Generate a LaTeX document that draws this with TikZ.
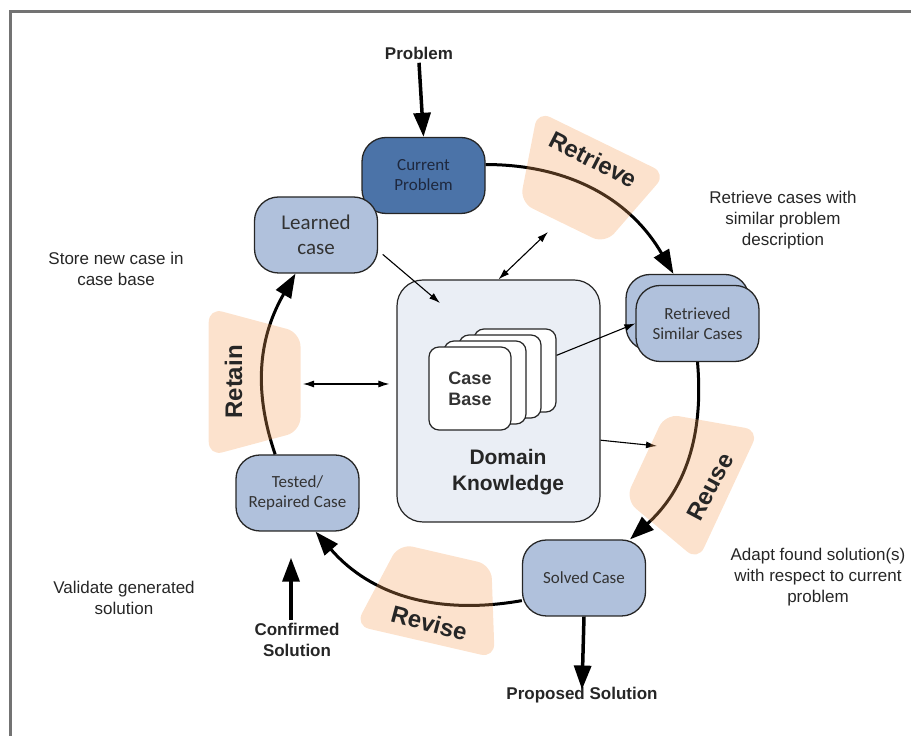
\documentclass[tikz,border=0pt]{standalone}
\usepackage{fontspec}
\setmainfont{Liberation Sans}
\newfontfamily\calibri{Carlito}
\usetikzlibrary{shapes.geometric, arrows.meta, positioning, calc}

\begin{document}
\begin{tikzpicture}[x=1pt,y=1pt]
		\tikzstyle{Case} = [rectangle, rounded corners=24pt, minimum width=123pt, minimum height=76pt, align=center, draw=black!85, line width=1.3pt, fill={rgb,255:red,176;green,193;blue,220}, text=black!80, font=\calibri\fontsize{17}{20}\selectfont]
		\tikzstyle{Card} = [rectangle, rounded corners=10pt, minimum width=82pt, minimum height=83pt, draw=black!85, line width=1.2pt, fill=white, align=center, font=\bfseries\fontsize{18}{21}\selectfont, text=black!80]
		\tikzstyle{Note} = [align=center, font=\fontsize{17}{21}\selectfont, text=black!85]
		\tikzstyle{Label} = [align=center, font=\bfseries\fontsize{17}{21}\selectfont, text=black!85]
		\tikzstyle{Phase} = [font=\bfseries\fontsize{24}{28}\selectfont, text=black!85]
		\tikzstyle{Patch} = [rounded corners=14pt, fill={rgb,255:red,245;green,160;blue,90}, fill opacity=0.3]
		\tikzstyle{bigarrow} = [line width=3.5pt, -{Triangle[length=24pt,width=17pt]}]
		\tikzstyle{cyclearrow} = [line width=3pt, -{Triangle[length=24pt,width=17pt]}]
		\tikzstyle{thinarrow} = [line width=1.1pt, -{Latex[length=11pt,width=7pt]}]
		
		\useasboundingbox (0,0) rectangle (911,736);
		\draw [line width=3pt, black!55] (911,724) -- (10.5,724) -- (10.5,0);
		
		\coordinate (ctr) at (485,354);
		
		% cycle nodes
		\node (cp) [Case, fill={rgb,255:red,75;green,115;blue,168}, text={rgb,255:red,30;green,40;blue,62}] at (423.5,560.5) {Current\\Problem};
		\node (lc) [Case, font=\calibri\fontsize{21}{25}\selectfont] at (316,501) {Learned\\case};
		\node (rb) [Case] at (687.5,423.5) {};
		\node (rf) [Case] at (697.5,412.5) {Retrieved\\Similar Cases};
		\node (sc) [Case] at (584,158) {Solved Case};
		\node (tr) [Case] at (297.5,243) {Tested/\\Repaired Case};
		
		% domain knowledge and case base
		\node (dk) [rectangle, rounded corners=26pt, minimum width=203pt, minimum height=242pt, draw=black!85, line width=1.2pt, fill={rgb,255:red,234;green,238;blue,245}] at (498.5,335) {};
		\foreach \i in {3,2,1}
			\node (cb\i) [Card] at (470+15*\i, 347.5+6*\i) {};
		\node (cb0) [Card] at (470,347.5) {Case\\Base};
		\node (dkl) [Label, font=\bfseries\fontsize{21}{26}\selectfont] at (508,264) {Domain\\Knowledge};
		
		% inputs and outputs
		\node (prob) [Label] at (419,683) {Problem};
		\node (conf) [Label] at (297,96) {Confirmed\\Solution};
		\node (prop) [Label] at (582,41) {Proposed Solution};
		\draw [bigarrow] (prob.south) -- (cp.north);
		\draw [bigarrow] (sc.south) -- ([yshift=-6pt]prop.north);
		\draw [bigarrow] ([xshift=-6pt]conf.north) -- ++(0,62);
		
		% the cycle
		\draw [cyclearrow] (cp.10) to[out=0, in=120] (rb.110);
		\draw [cyclearrow] (rf.south) to[out=-85, in=42] (sc.40);
		\draw [cyclearrow] (sc.200) to[out=190, in=-49] (tr.295);
		\draw [cyclearrow] (tr.120) to[out=109, in=-120] (lc.242);
		
		% links to the knowledge
		\coordinate (dkin) at (440,433);
		\coordinate (rtv) at (548,504);
		\coordinate (rus) at (657,290);
		\coordinate (rtn) at (303,352);
		\draw [thinarrow, shorten <=6pt] (lc.-14) -- (dkin);
		\draw [thinarrow, {Latex[length=11pt,width=7pt]}-{Latex[length=11pt,width=7pt]}] (dk.north) -- (rtv);
		\draw [thinarrow] (cb3.20) -- (rf.west);
		\draw [thinarrow] (dk.-21) -- (rus);
		\draw [thinarrow, {Latex[length=11pt,width=7pt]}-{Latex[length=11pt,width=7pt]}, shorten >=7pt] (rtn) -- (rtn -| dk.west);
		
		% phases
		\foreach \a/\r/\ri/\ro/\d/\lab in {64/-27/183/276/18/Retrieve, -25/62/183/278/18/Reuse, -103/-15/183/276/18/Revise, 180/90/191/286/13/Retain}
		{
			\fill [Patch] ($(ctr)+({\a-15}:\ri)$) -- ($(ctr)+({\a-15}:\ro)$) -- ($(ctr)+({\a+15}:\ro)$) -- ($(ctr)+({\a+15}:\ri)$) -- cycle;
			\node (ph-\lab) [Phase, rotate=\r] at ($(ctr)+(\a:{(\ri+\ro)/2+\d})$) {\lab};
		}
		
		% notes
		\node (n1) [Note] at (783,516) {Retrieve cases with\\similar problem\\description};
		\node (n2) [Note] at (116,467) {Store new case in\\case base};
		\node (n3) [Note] at (818,159) {Adapt found solution(s)\\with respect to current\\problem};
		\node (n4) [Note] at (124,138) {Validate generated\\solution};
\end{tikzpicture}
\end{document}
